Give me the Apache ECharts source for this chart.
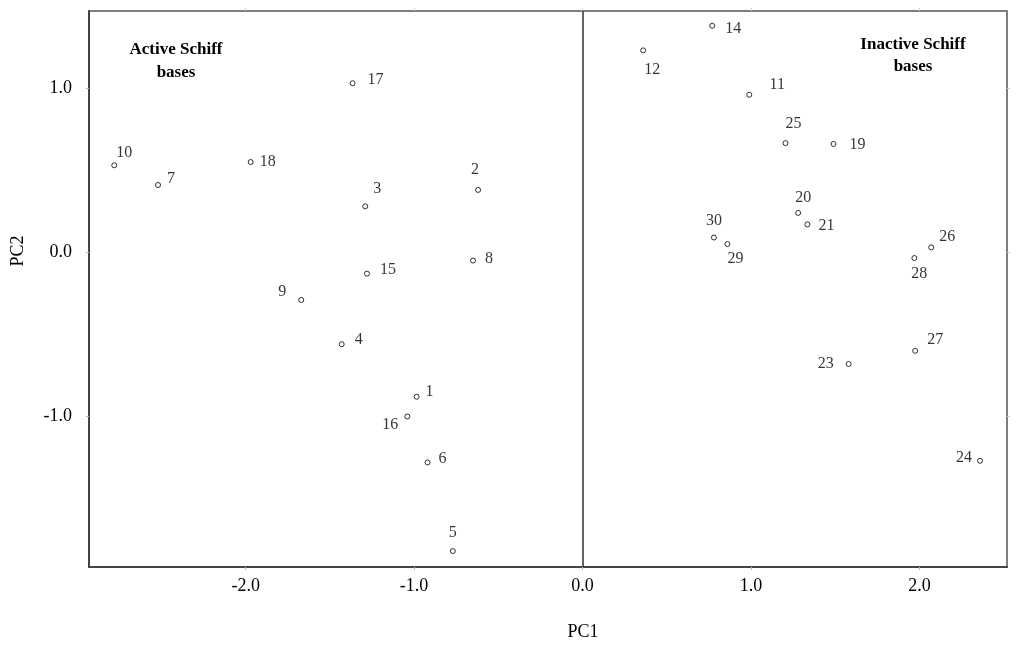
<!DOCTYPE html>
<html>
<head>
<meta charset="utf-8">
<script src="https://cdn.jsdelivr.net/npm/echarts@6/dist/echarts.min.js"></script>
<style>html,body{margin:0;padding:0;background:#fff;}#c{width:1024px;height:654px;}</style>
</head>
<body>
<div id="c"></div>
<script>
// Data
const ids = ['1','2','3','4','5','6','7','8','9','10','11','12','14','15','16','17','18','19','20','21','23','24','25','26','27','28','29','30'];
const pc1 = [-0.985,-0.62,-1.29,-1.43,-0.77,-0.92,-2.52,-0.65,-1.67,-2.78,0.99,0.36,0.77,-1.28,-1.04,-1.365,-1.97,1.49,1.28,1.335,1.58,2.36,1.205,2.07,1.975,1.97,0.86,0.78];
const pc2 = [-0.88,0.38,0.28,-0.56,-1.82,-1.28,0.41,-0.05,-0.29,0.53,0.96,1.23,1.38,-0.13,-1.00,1.03,0.55,0.66,0.24,0.17,-0.68,-1.27,0.665,0.03,-0.60,-0.035,0.05,0.09];
const xTicks = [-2,-1,0,1,2];
const yTicks = [-1,0,1];
const groupNotes = ['Active Schiff\nbases','Inactive Schiff\nbases'];
const axisNames = ['PC1','PC2'];

// Label placement (layout only, pixels relative to marker)
const labelOffsets = [[13,-5],[-3,-20],[12,-18],[17,-4],[0,-18],[15,-4],[13,-6],[16,-2],[-19,-8],[10,-13],[28,-10],[9,19],[21,3],[21,-4],[-17,8],[23,-3],[17,0],[24,1],[5,-15],[19,1],[-23,0],[-16,-3],[8,-19],[16,-11],[20,-11],[5,16],[8,15],[0,-17]];

const FONT = 'Liberation Serif';
const data = ids.map((id,i)=>({name:id,value:[pc1[i],pc2[i]]}));

const chart = echarts.init(document.getElementById('c'));
const fmt = v => v.toFixed(1);
chart.setOption({
  animation:false,
  backgroundColor:'#fff',
  grid:{left:89,right:17,top:11,bottom:87,show:true,borderColor:'#555',borderWidth:1.5,backgroundColor:'transparent'},
  xAxis:[{
    type:'value',min:-2.93,max:2.52,position:'bottom',
    splitLine:{show:false},
    axisLine:{show:true,onZero:false,lineStyle:{color:'#444',width:2}},
    axisTick:{show:true,customValues:xTicks,length:3,lineStyle:{color:'#bbb'}},
    axisLabel:{customValues:xTicks,formatter:fmt,fontFamily:FONT,fontSize:18,color:'#000',margin:10}
  },{
    type:'value',min:-2.93,max:2.52,position:'top',
    splitLine:{show:false},axisLine:{show:false,onZero:false},axisLabel:{show:false},
    axisTick:{show:true,customValues:xTicks,length:3,lineStyle:{color:'#ccc'}}
  }],
  yAxis:[{
    type:'value',min:-1.917,max:1.47,position:'left',
    splitLine:{show:false},
    axisLine:{show:true,onZero:false,lineStyle:{color:'#444',width:2}},
    axisTick:{show:true,customValues:yTicks,length:3,lineStyle:{color:'#bbb'}},
    axisLabel:{customValues:yTicks,formatter:fmt,fontFamily:FONT,fontSize:18,color:'#000',margin:17}
  },{
    type:'value',min:-1.917,max:1.47,position:'right',
    splitLine:{show:false},axisLine:{show:false,onZero:false},axisLabel:{show:false},
    axisTick:{show:true,customValues:yTicks,length:3,lineStyle:{color:'#ccc'}}
  }],
  series:[{
    type:'scatter',
    data:data,
    symbol:'circle',symbolSize:5,
    itemStyle:{color:'#fff',borderColor:'#000',borderWidth:1},
    label:{show:true,position:'inside',formatter:'{b}',fontFamily:FONT,fontSize:16,color:'#000',
      textBorderWidth:0,align:'center',verticalAlign:'middle'},
    labelLayout:function(p){const o=labelOffsets[p.dataIndex];return {dx:o[0],dy:o[1],hideOverlap:false};},
    markLine:{
      silent:true,symbol:['none','none'],label:{show:false},
      lineStyle:{color:'#333',width:1.5,type:'solid'},
      data:[{xAxis:0}]
    }
  }],
  graphic:[
    {type:'text',x:176,y:61.5,style:{text:groupNotes[0],font:'bold 17px "Liberation Serif"',fill:'#000',align:'center',verticalAlign:'middle',lineHeight:23}},
    {type:'text',x:913,y:55.5,style:{text:groupNotes[1],font:'bold 17px "Liberation Serif"',fill:'#000',align:'center',verticalAlign:'middle',lineHeight:22}},
    {type:'text',x:583,y:632,style:{text:axisNames[0],font:'18px "Liberation Serif"',fill:'#000',align:'center',verticalAlign:'middle'}},
    {type:'text',x:18,y:251,rotation:Math.PI/2,style:{text:axisNames[1],font:'18px "Liberation Serif"',fill:'#000',align:'center',verticalAlign:'middle'}}
  ]
});
</script>
</body>
</html>
